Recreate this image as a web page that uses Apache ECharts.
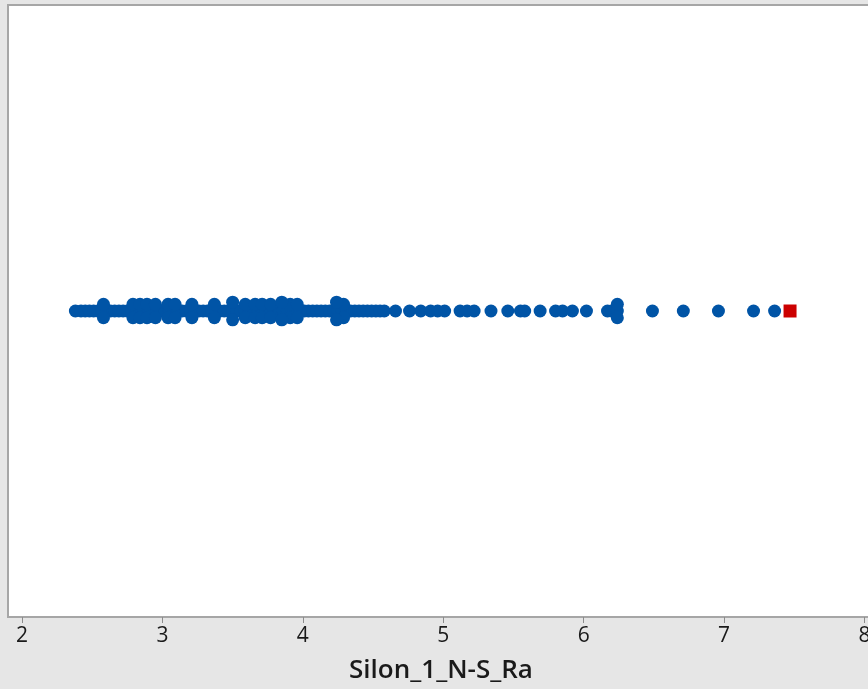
<!DOCTYPE html>
<html>
<head>
<meta charset="utf-8">
<script src="https://cdn.jsdelivr.net/npm/echarts@6/dist/echarts.min.js"></script>
<style>
html,body{margin:0;padding:0;background:#e6e6e6;}
#c{width:868px;height:689px;}
</style>
</head>
<body>
<div id="c"></div>
<script>
// Silon_1_N-S_Ra values on the centre line
var raCentre = [2.38, 2.42, 2.45, 2.48, 2.51, 2.54, 2.57, 2.60, 2.63, 2.66, 2.69, 2.72,
  2.75, 2.78, 2.81, 2.84, 2.87, 2.90, 2.93, 2.96, 2.99, 3.02, 3.05, 3.08, 3.11, 3.14,
  3.17, 3.20, 3.23, 3.26, 3.29, 3.32, 3.35, 3.38, 3.41, 3.44, 3.47, 3.50, 3.53, 3.56,
  3.59, 3.62, 3.65, 3.68, 3.71, 3.74, 3.77, 3.80, 3.83, 3.86, 3.89, 3.92, 3.95, 3.98,
  4.01, 4.04, 4.07, 4.10, 4.13, 4.16, 4.19, 4.22, 4.25, 4.28, 4.31, 4.34, 4.37, 4.40,
  4.43, 4.46, 4.49, 4.52, 4.55,
  4.58, 4.66, 4.76, 4.84, 4.91, 4.96, 5.01, 5.12, 5.17, 5.22, 5.34,
  5.46, 5.55, 5.58, 5.69, 5.80, 5.85, 5.92, 6.02, 6.17, 6.20, 6.24,
  6.49, 6.71, 6.96, 7.21, 7.36];
// duplicated values jittered slightly (small spread)
var raJitterSmall = [2.58, 2.79, 2.84, 2.89, 2.95, 3.04, 3.09, 3.21, 3.37, 3.59, 3.66,
  3.71, 3.77, 3.91, 3.96, 4.29, 6.24];
// duplicated values jittered further (large spread)
var raJitterLarge = [3.50, 3.85, 4.24];
// outlier
var raOutlier = [7.47];
var xTicks = [2, 3, 4, 5, 6, 7, 8];
var xTitle = 'Silon_1_N-S_Ra';

var blue = '#0054a6';
function pts(arr, off) { return arr.map(function (v) { return [v, off]; }); }

var chart = echarts.init(document.getElementById('c'));
chart.setOption({
  backgroundColor: '#e6e6e6',
  animation: false,
  grid: { left: 8, right: -6, top: 5, bottom: 72, show: true, backgroundColor: '#ffffff',
    borderColor: '#a6a6a6', borderWidth: 2, outerBoundsMode: 'none', containLabel: false },
  xAxis: {
    type: 'value', min: 1.9, max: 8.068,
    name: xTitle, nameLocation: 'middle', nameGap: 41,
    nameTextStyle: { fontFamily: 'Open Sans', fontSize: 26, fontWeight: 600, color: '#1a1a1a' },
    axisLine: { show: true, onZero: false, lineStyle: { color: '#a6a6a6', width: 2 } },
    axisTick: { show: true, length: 6, lineStyle: { color: '#8c8c8c' }, customValues: xTicks },
    axisLabel: { customValues: xTicks, margin: 9, fontFamily: 'Open Sans', fontSize: 21, color: '#1a1a1a' },
    splitLine: { show: false }
  },
  yAxis: { type: 'value', min: -50, max: 50, show: false, splitLine: { show: false } },
  series: [
    { type: 'scatter', symbol: 'circle', symbolSize: 13, itemStyle: { color: blue, opacity: 1 },
      data: pts(raCentre, 0).concat(pts(raJitterSmall, 1.1), pts(raJitterSmall, -1.1),
        pts(raJitterLarge, 1.45), pts(raJitterLarge, -1.45)) },
    { type: 'scatter', symbol: 'rect', symbolSize: 13, itemStyle: { color: '#cc0000', opacity: 1 },
      data: pts(raOutlier, 0) }
  ]
});
</script>
</body>
</html>
